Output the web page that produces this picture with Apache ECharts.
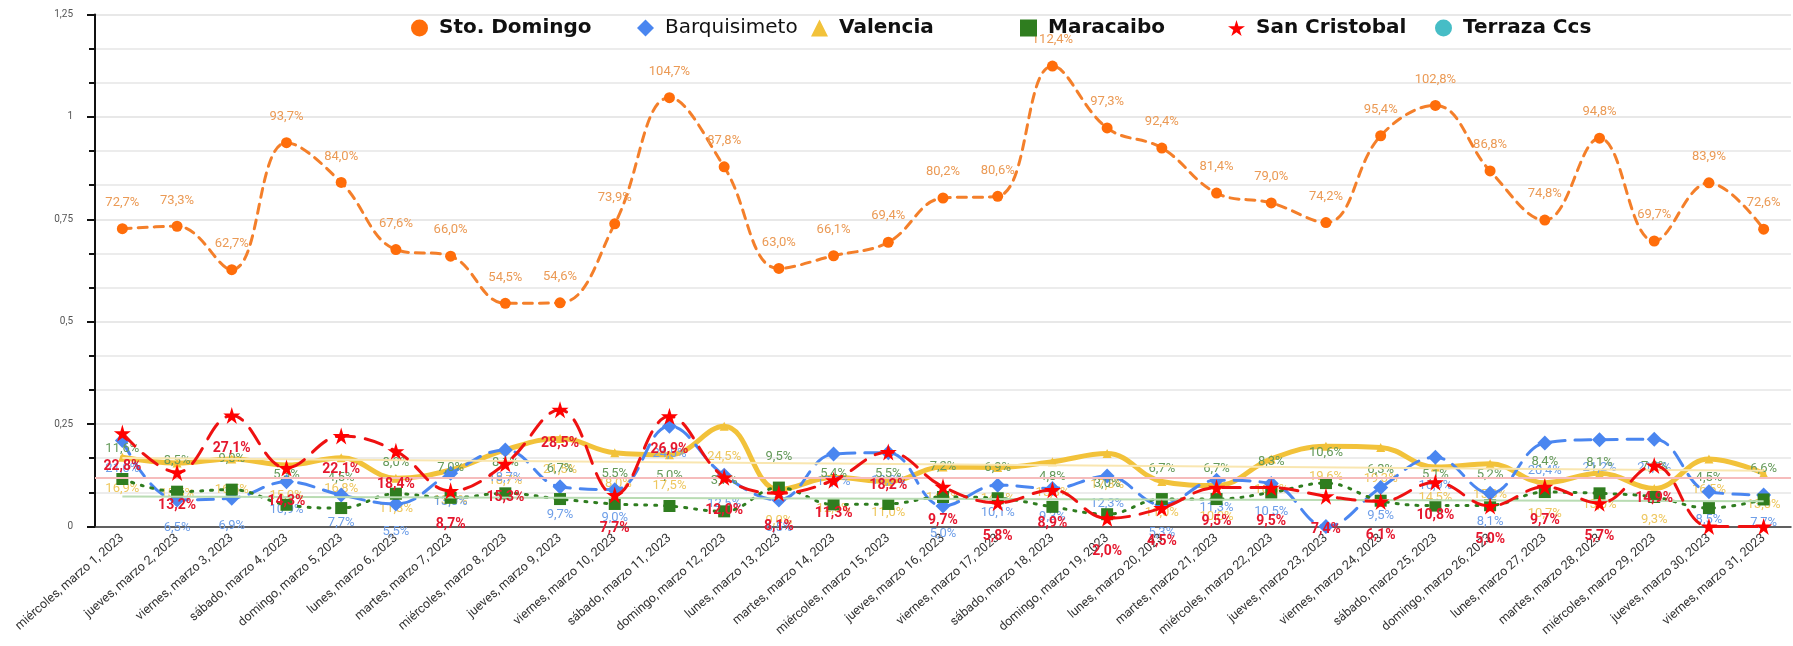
<!DOCTYPE html>
<html>
<head>
<meta charset="utf-8">
<script src="https://cdn.jsdelivr.net/npm/echarts@6/dist/echarts.min.js"></script>
<style>
  html, body { margin: 0; padding: 0; background: #fff; }
  #chart { width: 1793px; height: 646px; }
</style>
</head>
<body>
<div id="chart"></div>
<script>
// dias del mes
const dias = [
  'miércoles, marzo 1, 2023', 'jueves, marzo 2, 2023', 'viernes, marzo 3, 2023', 'sábado, marzo 4, 2023',
  'domingo, marzo 5, 2023', 'lunes, marzo 6, 2023', 'martes, marzo 7, 2023', 'miércoles, marzo 8, 2023',
  'jueves, marzo 9, 2023', 'viernes, marzo 10, 2023', 'sábado, marzo 11, 2023', 'domingo, marzo 12, 2023',
  'lunes, marzo 13, 2023', 'martes, marzo 14, 2023', 'miércoles, marzo 15, 2023', 'jueves, marzo 16, 2023',
  'viernes, marzo 17, 2023', 'sábado, marzo 18, 2023', 'domingo, marzo 19, 2023', 'lunes, marzo 20, 2023',
  'martes, marzo 21, 2023', 'miércoles, marzo 22, 2023', 'jueves, marzo 23, 2023', 'viernes, marzo 24, 2023',
  'sábado, marzo 25, 2023', 'domingo, marzo 26, 2023', 'lunes, marzo 27, 2023', 'martes, marzo 28, 2023',
  'miércoles, marzo 29, 2023', 'jueves, marzo 30, 2023', 'viernes, marzo 31, 2023'
]

const stoDomingo = [0.727, 0.733, 0.627, 0.937, 0.840, 0.676, 0.660, 0.545, 0.546, 0.739, 1.047, 0.878, 0.630, 0.661, 0.694, 0.802,
  0.806, 1.124, 0.973, 0.924, 0.814, 0.790, 0.742, 0.954, 1.028, 0.868, 0.748, 0.948, 0.697, 0.839, 0.726]
const barquisimeto = [0.210, 0.065, 0.069, 0.109, 0.077, 0.055, 0.130, 0.187, 0.097, 0.090, 0.245, 0.125, 0.065, 0.177, 0.180, 0.050,
  0.101, 0.093, 0.123, 0.053, 0.113, 0.105, 0.000, 0.095, 0.169, 0.081, 0.204, 0.212, 0.213, 0.085, 0.077]
const valencia = [0.169, 0.155, 0.165, 0.150, 0.168, 0.118, 0.138, 0.187, 0.215, 0.180, 0.175, 0.245, 0.090, 0.120, 0.110, 0.145,
  0.144, 0.158, 0.178, 0.110, 0.100, 0.165, 0.196, 0.193, 0.145, 0.153, 0.107, 0.130, 0.093, 0.165, 0.130]
const maracaibo = [0.116, 0.085, 0.090, 0.053, 0.045, 0.080, 0.070, 0.081, 0.067, 0.055, 0.050, 0.037, 0.095, 0.054, 0.055, 0.072,
  0.069, 0.048, 0.030, 0.067, 0.067, 0.083, 0.106, 0.063, 0.051, 0.052, 0.084, 0.081, 0.072, 0.045, 0.066]
const sanCristobal = [0.228, 0.132, 0.271, 0.143, 0.221, 0.184, 0.087, 0.153, 0.285, 0.077, 0.269, 0.120, 0.081, 0.113, 0.182, 0.097,
  0.058, 0.089, 0.020, 0.045, 0.095, 0.095, 0.074, 0.061, 0.108, 0.050, 0.097, 0.057, 0.149, 0.000, 0.000]
const terrazaCcs = dias.map(() => null)

const yTicks = ['0', '0,25', '0,5', '0,75', '1', '1,25']

const starPath = 'path://M50,0 L61,35 L98,35 L68,57 L79,91 L50,70 L21,91 L32,57 L2,35 L39,35 Z'

function pct (v) {
  if (v === 0) return ''
  return (v * 100).toFixed(1).replace('.', ',') + '%'
}

// linea de tendencia (regresion lineal)
function trend (arr) {
  const n = arr.length
  let sx = 0, sy = 0, sxy = 0, sxx = 0
  arr.forEach((y, x) => { sx += x; sy += y; sxy += x * y; sxx += x * x })
  const b = (n * sxy - sx * sy) / (n * sxx - sx * sx)
  const a = (sy - b * sx) / n
  return [[{ coord: [0, a] }, { coord: [n - 1, a + b * (n - 1)] }]]
}

function serie (name, data, o) {
  return {
    name: name,
    type: 'line',
    data: data,
    smooth: 0.4,
    symbol: o.symbol,
    symbolSize: o.size,
    itemStyle: { color: o.color },
    lineStyle: { color: o.line || o.color, width: o.width, type: o.dash, cap: 'round' },
    label: {
      show: true,
      position: o.pos,
      distance: o.dist,
      color: o.labelColor,
      fontSize: o.bold ? 14 : 13,
      fontWeight: o.bold ? 'bold' : 'normal',
      fontFamily: 'Roboto, Arial, sans-serif',
      formatter: p => pct(p.value)
    },
    z: o.z,
    markLine: o.mark
  }
}

// una leyenda por serie, para repartirlas como en el original
const legendItems = [
  { name: 'Sto. Domingo', icon: 'circle', left: 411 },
  { name: 'Barquisimeto', icon: 'diamond', left: 637 },
  { name: 'Valencia', icon: 'triangle', left: 811 },
  { name: 'Maracaibo', icon: 'rect', left: 1020 },
  { name: 'San Cristobal', icon: starPath, left: 1228 },
  { name: 'Terraza Ccs', icon: 'circle', left: 1435 }
]
const legends = legendItems.map(it => ({
  left: it.left,
  top: 18,
  itemWidth: 17,
  itemHeight: 17,
  padding: 0,
  textStyle: {
    fontSize: 20,
    fontWeight: it.name === 'Barquisimeto' ? 'normal' : 'bold',
    color: '#111',
    fontFamily: 'DejaVu Sans, sans-serif',
    padding: [0, 0, 0, 6]
  },
  data: [{ name: it.name, icon: it.icon }]
}))

let myChart = echarts.init(document.getElementById('chart'))
let option = {
  backgroundColor: '#fff',
  animation: false,
  grid: { left: 95, right: 2, top: 14.5, bottom: 119.5 },
  legend: legends,
  xAxis: {
    type: 'category',
    data: dias,
    boundaryGap: true,
    axisLine: { lineStyle: { color: '#333', width: 1.5 } },
    axisTick: { show: false },
    axisLabel: {
      rotate: 41,
      interval: 0,
      margin: 10,
      fontSize: 12.5,
      color: '#333',
      fontFamily: 'Roboto, Arial, sans-serif'
    },
    splitLine: { show: false }
  },
  yAxis: {
    type: 'value',
    min: 0,
    max: 1.25,
    interval: 0.25,
    axisLine: { show: true, lineStyle: { color: '#111', width: 2 } },
    axisTick: { show: true, length: 8, lineStyle: { color: '#111', width: 2 } },
    minorTick: { show: true, splitNumber: 3, length: 6, lineStyle: { color: '#111', width: 2 } },
    axisLabel: {
      margin: 22,
      fontSize: 10,
      color: '#555',
      fontFamily: 'Roboto, Arial, sans-serif',
      formatter: v => yTicks[Math.round(v * 4)]
    },
    splitLine: { show: true, lineStyle: { color: '#e0e0e0', width: 1.5 } },
    minorSplitLine: { show: true, lineStyle: { color: '#e6e6e6', width: 1.5 } }
  },
  series: [
    serie('Sto. Domingo', stoDomingo, {
      symbol: 'circle', size: 11, color: '#ff6d0a', line: '#f47f2a', width: 3, dash: [9, 7],
      pos: 'top', dist: 14, labelColor: '#eb9a55', z: 2
    }),
    serie('Barquisimeto', barquisimeto, {
      symbol: 'diamond', size: 15, color: '#4a86f0', width: 3, dash: [16, 10],
      pos: 'bottom', dist: 14, labelColor: '#6f9fe8', z: 3
    }),
    serie('Valencia', valencia, {
      symbol: 'triangle', size: 9, color: '#f2c23a', width: 5, dash: 'solid',
      pos: 'bottom', dist: 20, labelColor: '#eec75e', z: 2,
      mark: {
        silent: true, symbol: 'none', label: { show: false },
        lineStyle: { color: '#f9e6b0', width: 2, type: 'solid' },
        data: trend(valencia)
      }
    }),
    serie('Maracaibo', maracaibo, {
      symbol: 'rect', size: 12, color: '#2f7d1f', width: 3, dash: [2, 8],
      pos: 'top', dist: 18, labelColor: '#659a5a', z: 4,
      mark: {
        silent: true, symbol: 'none', label: { show: false },
        lineStyle: { color: '#b9dcb3', width: 2, type: 'solid' },
        data: trend(maracaibo)
      }
    }),
    serie('San Cristobal', sanCristobal, {
      symbol: starPath, size: 17, color: '#ff0000', line: '#ee1111', width: 3, dash: [18, 11],
      pos: 'bottom', dist: 18, labelColor: '#e5172e', bold: true, z: 5,
      mark: {
        silent: true, symbol: 'none', label: { show: false },
        lineStyle: { color: '#f6bcbc', width: 2, type: 'solid' },
        data: [{ type: 'average' }]
      }
    }),
    serie('Terraza Ccs', terrazaCcs, {
      symbol: 'circle', size: 11, color: '#46bdc6', width: 3, dash: 'solid',
      pos: 'top', dist: 5, labelColor: '#46bdc6', z: 2
    })
  ]
}
myChart.setOption(option, true)
window.addEventListener('resize', () => {
  myChart.resize()
})
</script>
</body>
</html>
